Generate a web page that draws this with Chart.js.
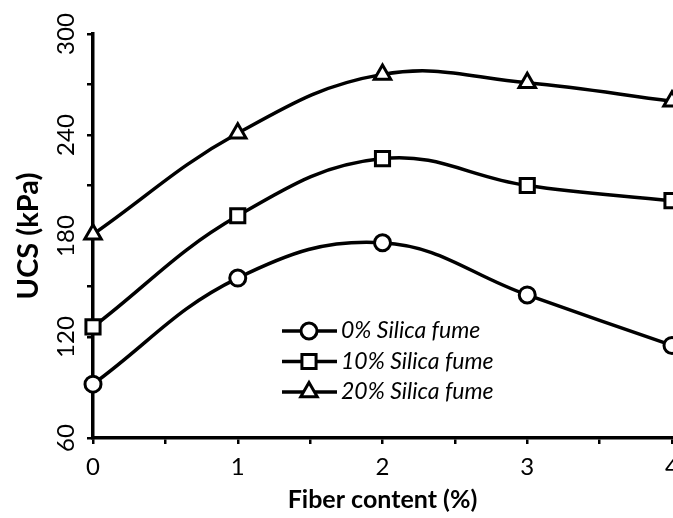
<!DOCTYPE html>
<html>
<head>
<meta charset="utf-8">
<script src="https://cdn.jsdelivr.net/npm/chart.js@4/dist/chart.umd.min.js"></script>
<style>
  html, body { margin: 0; padding: 0; background: #fff; }
  #clip { width: 673px; height: 518px; overflow: hidden; position: relative; }
  #wrap { width: 688px; height: 518px; position: absolute; left: 0; top: 0; }
</style>
</head>
<body>
<div id="clip"><div id="wrap"><canvas id="ucsChart"></canvas></div></div>
<script>
// fiber content (%) on x, UCS (kPa) on y
const fiberContent = [0, 1, 2, 3, 4];
const ucsSf0 = [92, 155, 176, 145, 115];
const ucsSf10 = [126, 192, 226, 210, 201];
const ucsSf20 = [181, 241, 276, 271, 260];
const seriesLabels = ["0% Silica fume", "10% Silica fume", "20% Silica fume"];
const markerStyles = ["circle", "rect", "triangle"];
const markerSizes = [8, 10, 9.5];

const toPoints = (ys) => fiberContent.map((x, i) => ({ x, y: ys[i] }));

function makeSet(idx, values) {
  return {
    label: seriesLabels[idx],
    data: toPoints(values),
    borderColor: "#000",
    borderWidth: 3.5,
    tension: 0.4,
    pointStyle: markerStyles[idx],
    pointRadius: markerSizes[idx],
    pointBorderWidth: 3,
    pointBackgroundColor: "#fff",
    pointBorderColor: "#000",
    clip: false
  };
}

// legend drawn as line-with-marker, like the original figure
const lineLegend = {
  id: "lineLegend",
  afterDatasetsDraw(chart) {
    const { ctx, chartArea } = chart;
    const x0 = chartArea.left + 189;
    const y0 = chartArea.top + 297;
    ctx.save();
    chart.data.datasets.forEach((ds, i) => {
      const y = y0 + i * 30.5;
      ctx.strokeStyle = "#000";
      ctx.lineWidth = 3.5;
      ctx.beginPath();
      ctx.moveTo(x0, y);
      ctx.lineTo(x0 + 55, y);
      ctx.stroke();
      ctx.fillStyle = "#fff";
      ctx.lineWidth = 3;
      Chart.helpers.drawPoint(ctx, { pointStyle: ds.pointStyle, radius: ds.pointRadius, borderWidth: 3, rotation: 0 }, x0 + 27, y);
      ctx.fillStyle = "#000";
      ctx.font = "italic 23px Lato";
      ctx.textBaseline = "middle";
      ctx.textAlign = "left";
      ctx.fillText(ds.label, x0 + 59, y);
    });
    ctx.restore();
  }
};

new Chart(document.getElementById("ucsChart"), {
  type: "line",
  data: {
    datasets: [makeSet(0, ucsSf0), makeSet(1, ucsSf10), makeSet(2, ucsSf20)]
  },
  options: {
    responsive: true,
    maintainAspectRatio: false,
    animation: false,
    layout: { padding: { top: 34, right: 16, left: 0, bottom: 0 } },
    plugins: { legend: { display: false }, tooltip: { enabled: false } },
    scales: {
      x: {
        type: "linear",
        min: 0,
        max: 4,
        afterFit: (s) => { s.height = 80; },
        border: { color: "#000", width: 3.5 },
        grid: { drawOnChartArea: false, color: "#000", lineWidth: 2.5, tickLength: 6 },
        ticks: {
          stepSize: 0.5,
          color: "#000",
          padding: 9,
          font: { family: "Lato", size: 24 },
          callback: (v) => (Number.isInteger(v) ? v : "")
        },
        title: {
          display: true,
          text: "Fiber content (%)",
          color: "#000",
          font: { family: "Lato", size: 25, weight: "bold" },
          padding: { top: 0, bottom: 3 }
        }
      },
      y: {
        min: 60,
        max: 300,
        afterFit: (s) => { s.width = 93; },
        border: { color: "#000", width: 3.5 },
        grid: { drawOnChartArea: false, color: "#000", lineWidth: 2.5, tickLength: 6 },
        ticks: {
          stepSize: 30,
          color: "#000",
          padding: 0,
          minRotation: 90,
          maxRotation: 90,
          crossAlign: "center",
          font: { family: "Lato", size: 24 },
          callback: (v) => (v % 60 === 0 ? v : "")
        },
        title: {
          display: true,
          text: "UCS (kPa)",
          color: "#000",
          font: { family: "Lato", size: 29, weight: "bold" },
          padding: { top: 11, bottom: 0 }
        }
      }
    }
  },
  plugins: [lineLegend]
});
</script>
</body>
</html>
